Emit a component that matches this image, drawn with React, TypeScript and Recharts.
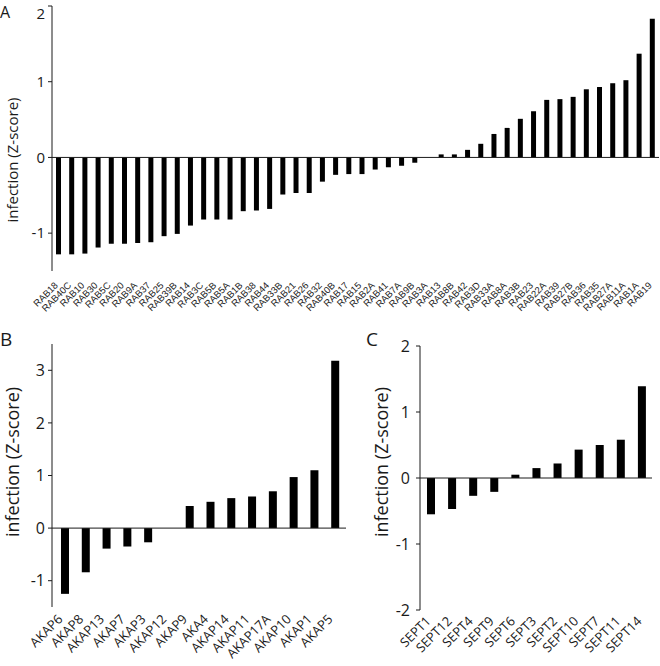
import React from 'react'
import { BarChart, Bar, XAxis, YAxis, ReferenceLine } from 'recharts'

// panel A: RAB family
const rabGenes = [
  'RAB18', 'RAB40C', 'RAB10', 'RAB30', 'RAB5C', 'RAB20', 'RAB9A', 'RAB37', 'RAB25', 'RAB39B',
  'RAB14', 'RAB3C', 'RAB5B', 'RAB5A', 'RAB1B', 'RAB38', 'RAB44', 'RAB33B', 'RAB21', 'RAB26',
  'RAB32', 'RAB40B', 'RAB17', 'RAB15', 'RAB2A', 'RAB41', 'RAB7A', 'RAB9B', 'RAB3A', 'RAB13',
  'RAB8B', 'RAB42', 'RAB3D', 'RAB33A', 'RAB8A', 'RAB3B', 'RAB23', 'RAB22A', 'RAB39', 'RAB27B',
  'RAB36', 'RAB35', 'RAB27A', 'RAB11A', 'RAB1A', 'RAB19',
]
const rabScores = [
  -1.28, -1.28, -1.27, -1.19, -1.14, -1.14, -1.13, -1.12, -1.04, -1.01,
  -0.9, -0.82, -0.82, -0.82, -0.71, -0.7, -0.68, -0.49, -0.47, -0.47,
  -0.32, -0.23, -0.22, -0.22, -0.16, -0.13, -0.11, -0.07, 0, 0.04,
  0.04, 0.1, 0.18, 0.31, 0.39, 0.51, 0.61, 0.76, 0.77, 0.8,
  0.9, 0.93, 0.98, 1.02, 1.37, 1.83,
]
const rabTicks = [-1, 0, 1, 2]

// panel B: AKAP family
const akapGenes = [
  'AKAP6', 'AKAP8', 'AKAP13', 'AKAP7', 'AKAP3', 'AKAP12', 'AKAP9',
  'AKA4', 'AKAP14', 'AKAP11', 'AKAP17A', 'AKAP10', 'AKAP1', 'AKAP5',
]
const akapScores = [-1.25, -0.84, -0.39, -0.35, -0.27, 0, 0.42, 0.5, 0.57, 0.6, 0.7, 0.97, 1.1, 3.18]
const akapTicks = [-1, 0, 1, 2, 3]

// panel C: septins
const septGenes = [
  'SEPT1', 'SEPT12', 'SEPT4', 'SEPT9', 'SEPT6', 'SEPT3',
  'SEPT2', 'SEPT10', 'SEPT7', 'SEPT11', 'SEPT14',
]
const septScores = [-0.55, -0.47, -0.27, -0.21, 0.05, 0.15, 0.22, 0.43, 0.5, 0.58, 1.39]
const septTicks = [-2, -1, 0, 1, 2]

const yTitle = 'infection (Z-score)'
const numFont = '"Open Sans", "DejaVu Sans", sans-serif'
const ink = '#1a1a1a'

const toRows = (genes: string[], scores: number[]) =>
  genes.map((gene, i) => ({ gene, z: scores[i] }))

const rabData = toRows(rabGenes, rabScores)
const akapData = toRows(akapGenes, akapScores)
const septData = toRows(septGenes, septScores)

// slanted gene names under the bars
const makeTick = (fontSize: number, dx: number, dy: number, family: string, fill: string) =>
  (props: any) => {
    const { x, y, payload } = props
    return (
      <g transform={`translate(${x + dx},${y + dy})`}>
        <text x={0} y={0} textAnchor="end" transform="rotate(-45)" fontSize={fontSize} fontFamily={family} fill={fill}>
          {payload.value}
        </text>
      </g>
    )
  }

// value ticks; the top one of panel A sits a little lower so it is not cut at the page edge
const makeYTick = (fontSize: number, topValue?: number) =>
  (props: any) => {
    const { x, y, payload } = props
    const shift = payload.value === topValue ? 5 : 0
    return (
      <text x={x} y={y + shift} dy="0.355em" textAnchor="end" fontSize={fontSize} fontFamily={numFont} fill={ink}>
        {payload.value}
      </text>
    )
  }

const App: React.FC = () => {
  return (
    <div style={{ position: 'absolute', left: 0, top: 0, width: 660, height: 666, background: '#fff' }}>
      <div style={{ position: 'absolute', left: 0, top: 0 }}>
        <BarChart width={660} height={320} data={rabData} margin={{ top: 6, right: 1, left: 0, bottom: 0 }}>
          <XAxis
            dataKey="gene"
            interval={0}
            axisLine={false}
            tickLine={false}
            tickSize={0}
            tickMargin={0}
            height={49}
            tick={makeTick(9.5, 0, 15, '"Liberation Sans", Arial, sans-serif', '#222')}
          />
          <YAxis
            width={52}
            domain={[-1.5, 2]}
            ticks={rabTicks}
            allowDataOverflow
            stroke={ink}
            tickSize={4}
            tickMargin={3}
            tick={makeYTick(15, 2)}
          />
          <ReferenceLine y={0} stroke={ink} strokeWidth={1} />
          <Bar dataKey="z" fill="#000" barSize={5} isAnimationActive={false} />
        </BarChart>
      </div>

      <div style={{ position: 'absolute', left: 0, top: 330 }}>
        <BarChart width={348} height={336} data={akapData} margin={{ top: 14, right: 2, left: 0, bottom: 0 }}>
          <XAxis
            dataKey="gene"
            interval={0}
            axisLine={false}
            tickLine={false}
            tickSize={0}
            tickMargin={0}
            height={59}
            padding={{ left: 3, right: 0 }}
            tick={makeTick(13, -2, 13, numFont, ink)}
          />
          <YAxis
            width={52}
            domain={[-1.5, 3.5]}
            ticks={akapTicks}
            allowDataOverflow
            stroke={ink}
            tickSize={4}
            tickMargin={3}
            tick={makeYTick(16)}
          />
          <ReferenceLine y={0} stroke={ink} strokeWidth={1} />
          <Bar dataKey="z" fill="#000" barSize={8} isAnimationActive={false} />
        </BarChart>
      </div>

      <div style={{ position: 'absolute', left: 360, top: 330 }}>
        <BarChart width={300} height={336} data={septData} margin={{ top: 16, right: 8, left: 0, bottom: 0 }}>
          <XAxis
            dataKey="gene"
            interval={0}
            axisLine={false}
            tickLine={false}
            tickSize={0}
            tickMargin={0}
            height={56}
            tick={makeTick(13, 1, 12, numFont, ink)}
          />
          <YAxis
            width={60}
            domain={[-2, 2]}
            ticks={septTicks}
            allowDataOverflow
            stroke={ink}
            tickSize={4}
            tickMargin={6}
            tick={makeYTick(16)}
          />
          <ReferenceLine y={0} stroke={ink} strokeWidth={1} />
          <Bar dataKey="z" fill="#000" barSize={8} isAnimationActive={false} />
        </BarChart>
      </div>

      {/* panel letters and axis titles */}
      <svg width={660} height={666} style={{ position: 'absolute', left: 0, top: 0, pointerEvents: 'none' }}>
        <g fontFamily={numFont} fill={ink}>
          <text x={0} y={18} fontSize={16}>A</text>
          <text x={0} y={346} fontSize={19}>B</text>
          <text x={366} y={346} fontSize={19}>C</text>
          <text x={12} y={160} fontSize={15} textAnchor="middle" dominantBaseline="central" transform="rotate(-90, 12, 160)">
            {yTitle}
          </text>
          <text x={12} y={462} fontSize={18} textAnchor="middle" dominantBaseline="central" transform="rotate(-90, 12, 462)">
            {yTitle}
          </text>
          <text x={381} y={462} fontSize={18} textAnchor="middle" dominantBaseline="central" transform="rotate(-90, 381, 462)">
            {yTitle}
          </text>
        </g>
      </svg>
    </div>
  )
}

export default App
